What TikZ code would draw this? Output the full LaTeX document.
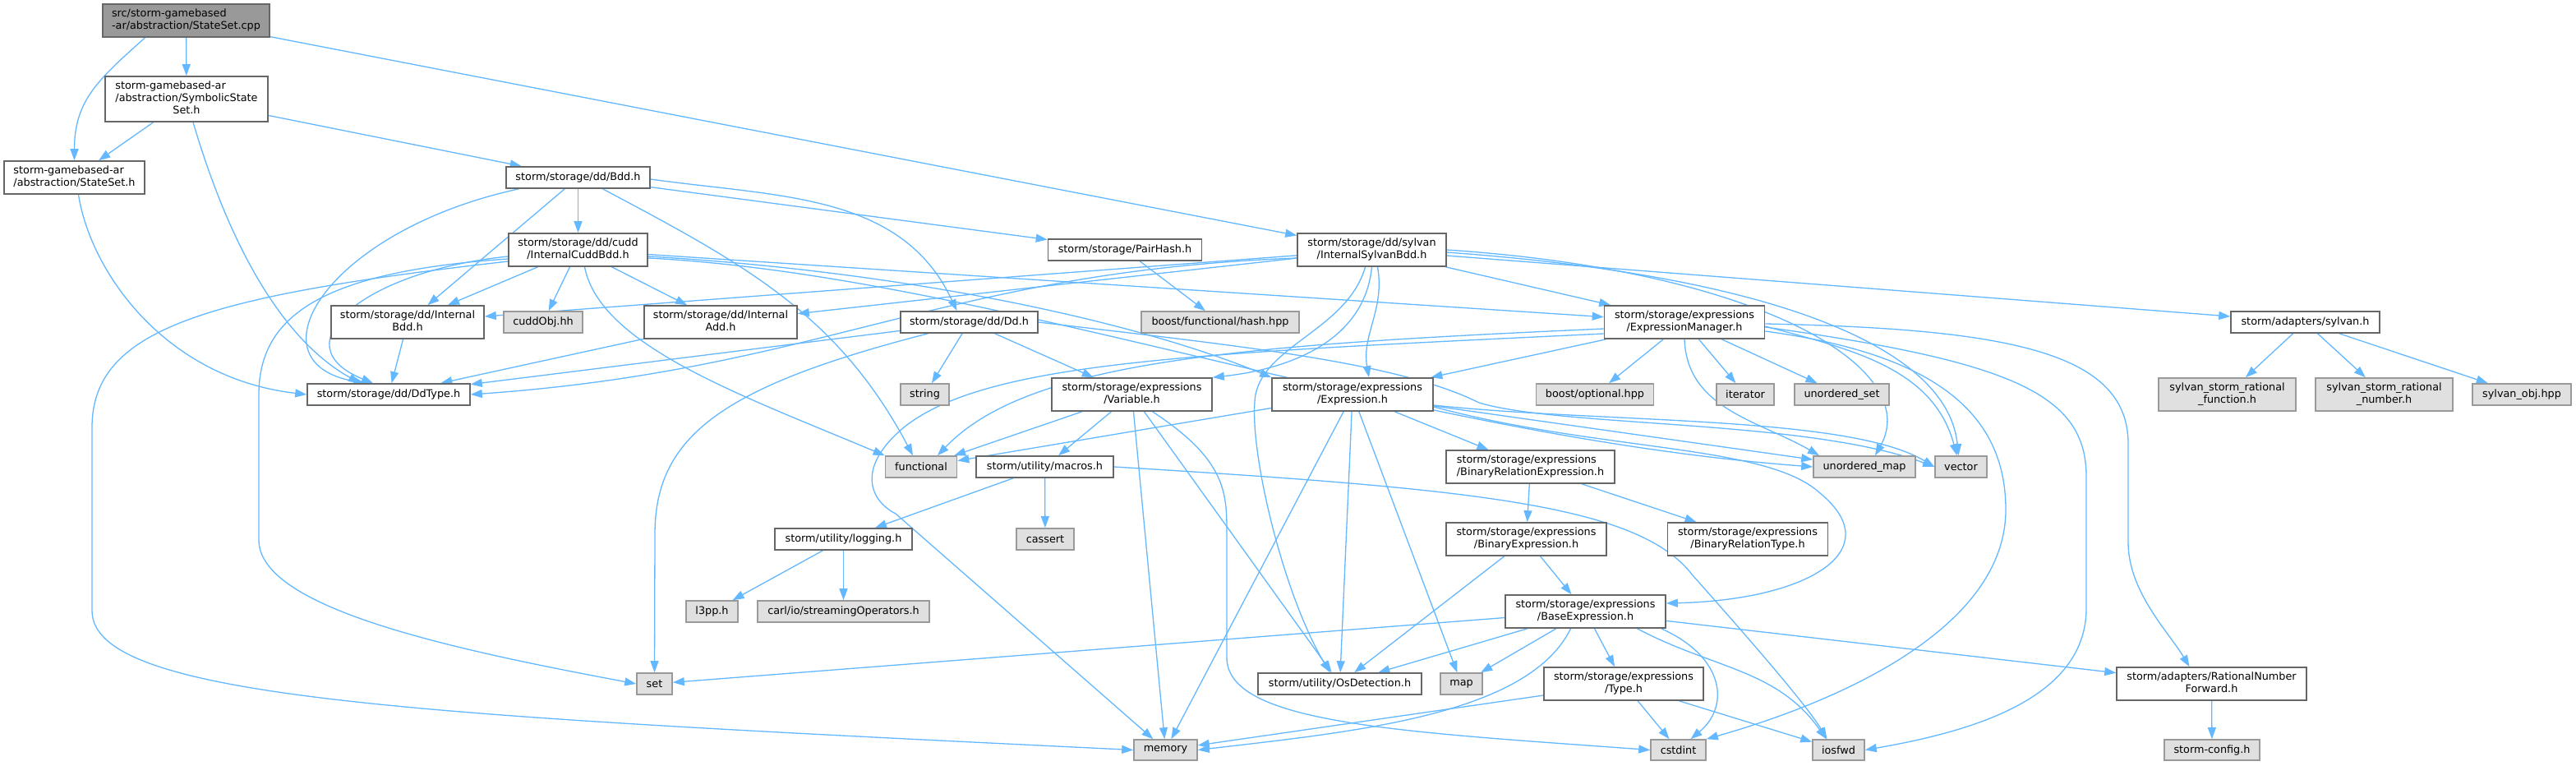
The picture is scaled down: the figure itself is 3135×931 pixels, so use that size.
\documentclass[tikz,border=0pt]{standalone}
\usepackage{fontspec}
\setmainfont{DejaVu Sans}
\usepackage{tikz}
\usetikzlibrary{arrows.meta,backgrounds}
\definecolor{edgeblue}{HTML}{63B8FF}
\definecolor{boxline}{HTML}{666666}
\definecolor{extline}{HTML}{999999}
\definecolor{extfill}{HTML}{E0E0E0}
\definecolor{rootfill}{HTML}{999999}
% doxygen style labels: first lines left, last line centred
\newcommand{\twol}[2]{\begin{tabular}{@{}l@{}}#1\\\multicolumn{1}{@{}c@{}}{#2}\end{tabular}}
\newcommand{\threel}[3]{\begin{tabular}{@{}l@{}}#1\\#2\\\multicolumn{1}{@{}c@{}}{#3}\end{tabular}}
\tikzset{
  hdr/.style={draw=boxline,fill=white,line width=1.6bp,inner sep=0pt,text=black,
    font=\fontsize{12.8bp}{14.7bp}\selectfont},
  sysh/.style={hdr,draw=extline,fill=extfill},
  rootf/.style={fill=rootfill},
  oneline/.style={minimum height=26bp},
  twoline/.style={minimum height=40bp},
  inc/.style={draw=edgeblue,line width=1.3bp,-{Triangle[length=14bp,width=10bp]}},
}
\begin{document}
\begin{tikzpicture}[x=1bp,y=1bp]
  \useasboundingbox (0,0) rectangle (3135,-931);
  % headers of the project
  \node[hdr,twoline,rootf,minimum width=203bp] (root) at (226.5,-25) {\twol{src/storm-gamebased}{-ar/abstraction/StateSet.cpp}};
  \node[hdr,minimum height=55bp,minimum width=198bp] (symstate) at (227,-120.5) {\threel{storm-gamebased-ar}{/abstraction/SymbolicState}{Set.h}};
  \node[hdr,twoline,minimum width=171bp] (stateset) at (90.5,-216) {\twol{storm-gamebased-ar}{/abstraction/StateSet.h}};
  \node[hdr,oneline,minimum width=175bp] (bdd) at (703.5,-216) {storm/storage/dd/Bdd.h};
  \node[hdr,twoline,minimum width=169bp] (cuddbdd) at (703.5,-304) {\twol{storm/storage/dd/cudd}{/InternalCuddBdd.h}};
  \node[hdr,twoline,minimum width=186bp] (intbdd) at (496,-392) {\twol{storm/storage/dd/Internal}{Bdd.h}};
  \node[hdr,twoline,minimum width=186bp] (intadd) at (877,-392) {\twol{storm/storage/dd/Internal}{Add.h}};
  \node[hdr,oneline,minimum width=198bp] (ddtype) at (473,-480) {storm/storage/dd/DdType.h};
  \node[hdr,oneline,minimum width=187bp] (pairhash) at (1369,-304) {storm/storage/PairHash.h};
  \node[hdr,oneline,minimum width=167bp] (dd) at (1179.5,-392) {storm/storage/dd/Dd.h};
  \node[hdr,twoline,minimum width=195bp] (variable) at (1377.5,-480) {\twol{storm/storage/expressions}{/Variable.h}};
  \node[hdr,twoline,minimum width=196bp] (expression) at (1646,-480) {\twol{storm/storage/expressions}{/Expression.h}};
  \node[hdr,twoline,minimum width=181bp] (sylvanbdd) at (1669.5,-304) {\twol{storm/storage/dd/sylvan}{/InternalSylvanBdd.h}};
  \node[hdr,twoline,minimum width=195bp] (exprmgr) at (2050,-392) {\twol{storm/storage/expressions}{/ExpressionManager.h}};
  \node[hdr,oneline,minimum width=181bp] (sylvanh) at (2805.5,-392) {storm/adapters/sylvan.h};
  \node[hdr,oneline,minimum width=167bp] (macros) at (1271.5,-568) {storm/utility/macros.h};
  \node[hdr,twoline,minimum width=205bp] (binrelexpr) at (1862.5,-568) {\twol{storm/storage/expressions}{/BinaryRelationExpression.h}};
  \node[hdr,oneline,minimum width=167bp] (logging) at (1026.5,-656) {storm/utility/logging.h};
  \node[hdr,twoline,minimum width=195bp] (binexpr) at (1857.5,-656) {\twol{storm/storage/expressions}{/BinaryExpression.h}};
  \node[hdr,twoline,minimum width=195bp] (binreltype) at (2127,-656) {\twol{storm/storage/expressions}{/BinaryRelationType.h}};
  \node[hdr,twoline,minimum width=195bp] (baseexpr) at (1929.5,-744) {\twol{storm/storage/expressions}{/BaseExpression.h}};
  \node[hdr,oneline,minimum width=199bp] (osdet) at (1630.5,-832) {storm/utility/OsDetection.h};
  \node[hdr,twoline,minimum width=194bp] (typeh) at (1976,-832) {\twol{storm/storage/expressions}{/Type.h}};
  \node[hdr,twoline,minimum width=231bp] (ratforward) at (2691.5,-832) {\twol{storm/adapters/RationalNumber}{Forward.h}};
  % system and external headers
  \node[sysh,oneline,minimum width=96bp] (cuddobj) at (661,-392) {cuddObj.hh};
  \node[sysh,oneline,minimum width=192bp] (boosthash) at (1485,-392) {boost/functional/hash.hpp};
  \node[sysh,oneline,minimum width=59bp] (string) at (1125.5,-480) {string};
  \node[sysh,oneline,minimum width=143bp] (boostopt) at (1941,-480) {boost/optional.hpp};
  \node[sysh,oneline,minimum width=70bp] (iterator) at (2124,-480) {iterator};
  \node[sysh,oneline,minimum width=115bp] (unordset) at (2241.5,-480) {unordered\_set};
  \node[sysh,oneline,minimum width=124bp] (unordmap) at (2269,-568) {unordered\_map};
  \node[sysh,oneline,minimum width=63bp] (vector) at (2386.5,-568) {vector};
  \node[sysh,twoline,minimum width=167bp] (srfunc) at (2710.5,-480) {\twol{sylvan\_storm\_rational}{\_function.h}};
  \node[sysh,twoline,minimum width=167bp] (srnum) at (2901.5,-480) {\twol{sylvan\_storm\_rational}{\_number.h}};
  \node[sysh,oneline,minimum width=120bp] (sylobj) at (3069,-480) {sylvan\_obj.hpp};
  \node[sysh,oneline,minimum width=87bp] (functional) at (1121,-568) {functional};
  \node[sysh,oneline,minimum width=70bp] (cassert) at (1272,-656) {cassert};
  \node[sysh,oneline,minimum width=63bp] (l3pp) at (866.5,-744) {l3pp.h};
  \node[sysh,oneline,minimum width=209bp] (carl) at (1026.5,-744) {carl/io/streamingOperators.h};
  \node[sysh,oneline,minimum width=43bp] (set) at (796.5,-832) {set};
  \node[sysh,oneline,minimum width=51bp] (map) at (1778.5,-832) {map};
  \node[sysh,minimum height=25bp,minimum width=77bp] (memory) at (1418.5,-912.5) {memory};
  \node[sysh,minimum height=25bp,minimum width=67bp] (cstdint) at (2042.5,-912.5) {cstdint};
  \node[sysh,minimum height=25bp,minimum width=63bp] (iosfwd) at (2237.5,-912.5) {iosfwd};
  \node[sysh,minimum height=25bp,minimum width=116bp] (stormconfig) at (2692,-912.5) {storm-config.h};

  \begin{scope}[on background layer]
  \fill[white] (0,0) rectangle (3135,-931);
  % StateSet.cpp
  \draw[inc] ([xshift=-50bp]root.south) to[out=222,in=90,looseness=1.1] (stateset.north);
  \draw[inc] (root) -- (symstate);
  \draw[inc] (root) -- (sylvanbdd);
  % SymbolicStateSet.h and StateSet.h
  \draw[inc] (symstate) -- (stateset);
  \draw[inc] ([xshift=8bp]symstate.south) .. controls (262,-240) and (320,-400) .. ([xshift=-35bp]ddtype.north);
  \draw[inc] (symstate) -- (bdd);
  \draw[inc] ([xshift=5bp]stateset.south) .. controls (110,-330) and (200,-460) .. (ddtype.west);
  % Bdd.h
  \draw[inc] ([xshift=-72bp]bdd.south) .. controls (400,-280) and (300,-440) .. ([xshift=-29bp]ddtype.north);
  \draw[inc] (bdd) -- (intbdd);
  \draw[inc] (bdd) -- (cuddbdd);
  \draw[inc] ([xshift=30bp]bdd.south) to[out=-28,in=118] ([xshift=-10bp]functional.north);
  \draw[inc] ([yshift=-2bp]bdd.east) to[out=-8,in=115] ([xshift=-15bp]dd.north);
  \draw[inc] (bdd) -- (pairhash);
  % InternalCuddBdd.h
  \draw[inc] (cuddbdd) -- (intbdd);
  \draw[inc] (cuddbdd) -- (cuddobj);
  \draw[inc] (cuddbdd) -- (intadd);
  \draw[inc] ([xshift=8bp]cuddbdd.south) .. controls (730,-420) and (900,-480) .. (functional.north west);
  \draw[inc] ([yshift=-8bp]cuddbdd.west) .. controls (440,-330) and (340,-420) .. ([xshift=-19bp]ddtype.north);
  \draw[inc] ([yshift=-11bp]cuddbdd.west) .. controls (400,-330) and (315,-380) .. (315,-480) -- (315,-657)
     .. controls (315,-740) and (550,-790) .. (set.west);
  \draw[inc] ([yshift=-14bp]cuddbdd.west) .. controls (250,-360) and (112,-400) .. (112,-520) -- (112,-743)
     .. controls (112,-850) and (500,-870) .. (memory.west);
  \draw[inc] (cuddbdd) -- (exprmgr);
  \draw[inc] ([yshift=-8bp]cuddbdd.east) .. controls (1100,-330) and (1380,-390) .. (expression.north west);
  \draw[inc] ([yshift=-10bp]cuddbdd.east) .. controls (1200,-335) and (1700,-530) .. (unordmap.west);
  % InternalBdd.h, InternalAdd.h, Dd.h
  \draw[inc] (intbdd) -- (ddtype);
  \draw[inc] (intadd) -- (ddtype);
  \draw[inc] (dd) -- (ddtype);
  \draw[inc] (dd) -- (string);
  \draw[inc] (dd) -- (variable);
  \draw[inc] ([xshift=-50bp]dd.south) .. controls (880,-470) and (797,-530) .. (797,-650) -- (set.north);
  \draw[inc] (dd.east) .. controls (1500,-420) and (1700,-440) .. (1800,-490) .. controls (1900,-520) and (2200,-510) .. (vector.west);
  % InternalSylvanBdd.h
  \draw[inc] (sylvanbdd) -- (intbdd);
  \draw[inc] (sylvanbdd) -- (intadd);
  \draw[inc] ([yshift=-10bp]sylvanbdd.west) .. controls (1150,-330) and (1000,-450) .. (ddtype.east);
  \draw[inc] (sylvanbdd) -- (exprmgr);
  \draw[inc] ([xshift=7bp]sylvanbdd.south) to[out=-80,in=100] ([xshift=20bp]expression.north);
  \draw[inc] (sylvanbdd.south) .. controls (1660,-420) and (1560,-450) .. (variable.north east);
  \draw[inc] ([xshift=-8bp]sylvanbdd.south) .. controls (1640,-400) and (1540,-420) .. (1528,-480)
     .. controls (1518,-540) and (1560,-720) .. ([xshift=-12bp]osdet.north);
  \draw[inc] (sylvanbdd.east) .. controls (2150,-330) and (2340,-450) .. ([xshift=13bp]unordmap.north);
  \draw[inc] ([yshift=-3bp]sylvanbdd.east) .. controls (2150,-335) and (2370,-420) .. ([xshift=-3bp]vector.north);
  \draw[inc] (sylvanbdd) -- (sylvanh);
  % ExpressionManager.h
  \draw[inc] (exprmgr) -- (expression);
  \draw[inc] (exprmgr) -- (boostopt);
  \draw[inc] (exprmgr) -- (iterator);
  \draw[inc] (exprmgr) -- (unordset);
  \draw[inc] (exprmgr.south) to[out=-88,in=150] ([xshift=-55bp]unordmap.north);
  \draw[inc] ([yshift=-5bp]exprmgr.east) to[out=-15,in=105] ([xshift=-5bp]vector.north);
  \draw[inc] ([yshift=-11bp]exprmgr.east) .. controls (2350,-430) and (2441,-500) .. (2441,-620)
     .. controls (2441,-760) and (2250,-850) .. (cstdint.north east);
  \draw[inc] ([yshift=-6bp]exprmgr.east) .. controls (2450,-440) and (2539,-480) .. (2539,-580) -- (2539,-740)
     .. controls (2539,-850) and (2400,-890) .. (iosfwd.east);
  \draw[inc] ([yshift=-2bp]exprmgr.east) .. controls (2450,-400) and (2590,-430) .. (2590,-540) -- (2590,-660)
     .. controls (2590,-720) and (2640,-770) .. ([xshift=-27bp]ratforward.north);
  \draw[inc] ([yshift=-8bp]exprmgr.west) .. controls (1500,-420) and (1250,-440) .. ([xshift=20bp]functional.north);
  \draw[inc] ([yshift=-14bp]exprmgr.west) .. controls (1450,-430) and (1200,-440) .. (1100,-520)
     .. controls (1040,-570) and (1060,-610) .. (1090,-625) -- (memory);
  % Variable.h
  \draw[inc] (variable) -- (functional);
  \draw[inc] (variable) -- (macros);
  \draw[inc] (variable) -- (memory);
  \draw[inc] (variable) -- (osdet);
  \draw[inc] ([xshift=25bp]variable.south) .. controls (1493,-560) and (1493,-600) .. (1493,-650) -- (1493,-800)
     .. controls (1493,-880) and (1700,-890) .. (cstdint.west);
  % Expression.h
  \draw[inc] (expression) -- (functional);
  \draw[inc] (expression) -- (memory);
  \draw[inc] (expression) -- (osdet);
  \draw[inc] (expression) -- (map);
  \draw[inc] (expression) -- (binrelexpr);
  \draw[inc] (expression) -- (unordmap);
  \draw[inc] ([yshift=-13bp]expression.east) .. controls (1950,-515) and (2250,-505) .. (vector.west);
  \draw[inc] ([yshift=-15bp]expression.east) .. controls (1950,-550) and (2150,-540) .. (2215,-600)
     .. controls (2300,-670) and (2200,-730) .. ([yshift=10bp]baseexpr.east);
  % binary expressions
  \draw[inc] (binrelexpr) -- (binexpr);
  \draw[inc] (binrelexpr) -- (binreltype);
  \draw[inc] (binexpr) -- (baseexpr);
  \draw[inc] (binexpr) -- (osdet);
  % BaseExpression.h and Type.h
  \draw[inc] (baseexpr) -- (set);
  \draw[inc] (baseexpr) -- (osdet);
  \draw[inc] (baseexpr) -- (map);
  \draw[inc] ([xshift=-18bp]baseexpr.south) .. controls (1860,-870) and (1650,-890) .. (memory.east);
  \draw[inc] (baseexpr) -- (typeh);
  \draw[inc] ([xshift=63bp]baseexpr.south) to[out=-28,in=125] ([xshift=-15bp]iosfwd.north);
  \draw[inc] ([xshift=-6bp]baseexpr.south east) .. controls (2100,-800) and (2105,-860) .. ([xshift=15bp]cstdint.north);
  \draw[inc] (baseexpr) -- (ratforward);
  \draw[inc] (typeh) -- (memory);
  \draw[inc] (typeh) -- (cstdint);
  \draw[inc] (typeh) -- (iosfwd);
  % utility
  \draw[inc] (macros) -- (logging);
  \draw[inc] (macros) -- (cassert);
  \draw[inc] (macros.east) .. controls (1800,-595) and (1995,-615) .. (2060,-700)
     .. controls (2140,-790) and (2200,-860) .. ([xshift=-14bp]iosfwd.north);
  \draw[inc] (logging) -- (l3pp);
  \draw[inc] (logging) -- (carl);
  % the rest
  \draw[inc] (pairhash) -- (boosthash);
  \draw[inc] (sylvanh) -- (srfunc);
  \draw[inc] (sylvanh) -- (srnum);
  \draw[inc] (sylvanh) -- (sylobj);
  \draw[inc] (ratforward) -- (stormconfig);
  \end{scope}
\end{tikzpicture}
\end{document}
